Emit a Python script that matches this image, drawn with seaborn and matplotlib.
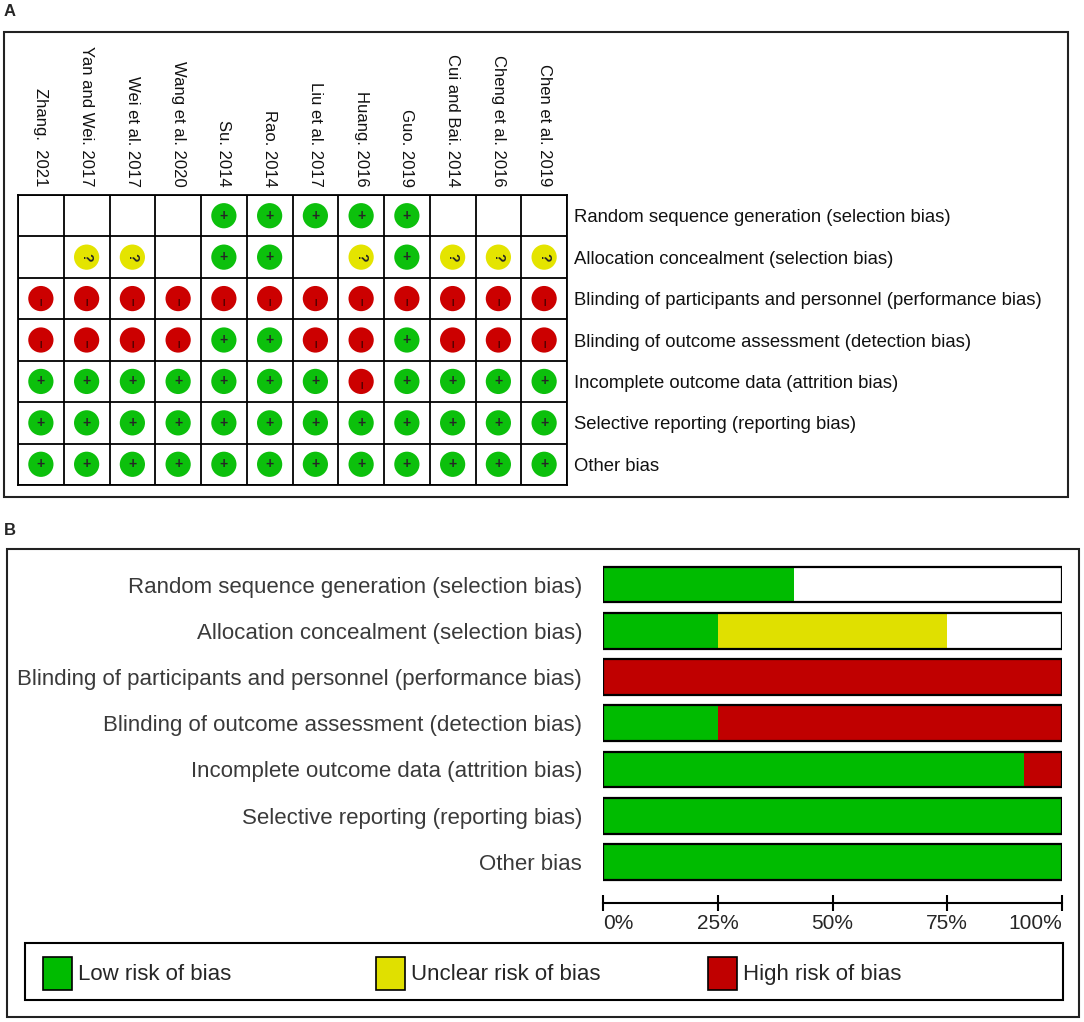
import numpy as np
import pandas as pd
import matplotlib
matplotlib.use("Agg")
import matplotlib.pyplot as plt
import seaborn as sns
from matplotlib.patches import Rectangle

# studies (columns of panel A) and domains (rows)
studies = ["Zhang.  2021", "Yan and Wei. 2017", "Wei et al. 2017", "Wang et al. 2020",
           "Su. 2014", "Rao. 2014", "Liu et al. 2017", "Huang. 2016", "Guo. 2019",
           "Cui and Bai. 2014", "Cheng et al. 2016", "Chen et al. 2019"]
domains = ["Random sequence generation (selection bias)",
           "Allocation concealment (selection bias)",
           "Blinding of participants and personnel (performance bias)",
           "Blinding of outcome assessment (detection bias)",
           "Incomplete outcome data (attrition bias)",
           "Selective reporting (reporting bias)",
           "Other bias"]

# judgements per domain, one per study: "+" low, "?" unclear, "-" high, "" not assessed
random_seq = ["", "", "", "", "+", "+", "+", "+", "+", "", "", ""]
allocation = ["", "?", "?", "", "+", "+", "", "?", "+", "?", "?", "?"]
blind_part = ["-", "-", "-", "-", "-", "-", "-", "-", "-", "-", "-", "-"]
blind_outc = ["-", "-", "-", "-", "+", "+", "-", "-", "+", "-", "-", "-"]
incomplete = ["+", "+", "+", "+", "+", "+", "+", "-", "+", "+", "+", "+"]
selective = ["+", "+", "+", "+", "+", "+", "+", "+", "+", "+", "+", "+"]
other = ["+", "+", "+", "+", "+", "+", "+", "+", "+", "+", "+", "+"]
judgements = [random_seq, allocation, blind_part, blind_outc, incomplete, selective, other]

legend_names = ["Low risk of bias", "Unclear risk of bias", "High risk of bias"]

GREEN = "#00bb00"
YELLOW = "#e0e000"
RED = "#c00000"
dot_colors = {"+": "#0cc00c", "?": "#e4e400", "-": "#cc0000"}

W, H = 1084, 1022


def box(l, t, r, b):
    # pixel box -> figure fraction [left, bottom, width, height]
    return [l / W, 1 - b / H, (r - l) / W, (b - t) / H]


def frame(fig, l, t, r, b, lw=1.5, ec="#222222"):
    x, y, w, h = box(l, t, r, b)
    fig.add_artist(Rectangle((x, y), w, h, transform=fig.transFigure,
                             fill=False, ec=ec, lw=lw))


sns.set_style("white")
plt.rcParams["font.family"] = ["Liberation Sans", "DejaVu Sans"]

fig = plt.figure(figsize=(W / 100, H / 100), dpi=100)

# ---------------- panel A: traffic light grid ----------------
rows = []
for d_i, marks in enumerate(judgements):
    for s_i, m in enumerate(marks):
        if m:
            rows.append({"study": s_i, "domain": d_i, "mark": m})
df_a = pd.DataFrame(rows)

ax1 = fig.add_axes(box(18, 195, 567, 485))
sns.scatterplot(data=df_a, x="study", y="domain", hue="mark", palette=dot_colors,
                s=330, edgecolor="none", legend=False, ax=ax1, zorder=3)
for _, r in df_a.iterrows():
    if r["mark"] == "+":
        ax1.text(r["study"], r["domain"], "+", ha="center", va="center",
                 fontsize=10, fontweight="bold", zorder=4)
    elif r["mark"] == "?":
        ax1.text(r["study"], r["domain"], "?", ha="center", va="center",
                 fontsize=10, fontweight="bold", rotation=-90, zorder=4)
    else:
        ax1.text(r["study"], r["domain"] + 0.1, "|", ha="center", va="center",
                 fontsize=6, fontweight="bold", color="#330000", zorder=4)

ax1.set_xlim(-0.5, len(studies) - 0.5)
ax1.set_ylim(len(domains) - 0.5, -0.5)
ax1.set_xticks(np.arange(-0.5, len(studies), 1), minor=True)
ax1.set_yticks(np.arange(-0.5, len(domains), 1), minor=True)
ax1.grid(which="minor", color="black", lw=1.3)
ax1.grid(which="major", visible=False)
ax1.xaxis.tick_top()
ax1.yaxis.tick_right()
ax1.set_xticks(range(len(studies)))
ax1.set_xticklabels(studies, rotation=-90, fontsize=12, color="#111111")
ax1.set_yticks(range(len(domains)))
ax1.set_yticklabels(domains, fontsize=13.3, color="#111111")
ax1.tick_params(which="both", length=0)
ax1.tick_params(axis="x", pad=6)
ax1.tick_params(axis="y", pad=5)
ax1.set_xlabel("")
ax1.set_ylabel("")
for sp in ax1.spines.values():
    sp.set_color("black")
    sp.set_linewidth(1.3)

# ---------------- panel B: summary bars ----------------
n = len(studies)
df_b = pd.DataFrame({
    "domain": domains,
    "low": [m.count("+") / n * 100 for m in judgements],
    "unclear": [m.count("?") / n * 100 for m in judgements],
    "high": [m.count("-") / n * 100 for m in judgements],
})
df_b["c_high"] = df_b["low"] + df_b["unclear"] + df_b["high"]
df_b["c_unclear"] = df_b["low"] + df_b["unclear"]
df_b["total"] = 100

ax2 = fig.add_axes(box(603, 561.4, 1062, 885.1))
bw = 0.77
sns.barplot(data=df_b, x="c_high", y="domain", color=RED, saturation=1,
            width=bw, orient="y", ax=ax2, linewidth=0)
sns.barplot(data=df_b, x="c_unclear", y="domain", color=YELLOW, saturation=1,
            width=bw, orient="y", ax=ax2, linewidth=0)
sns.barplot(data=df_b, x="low", y="domain", color=GREEN, saturation=1,
            width=bw, orient="y", ax=ax2, linewidth=0)
sns.barplot(data=df_b, x="total", y="domain", color="black", fill=False,
            width=bw, orient="y", ax=ax2, linewidth=1.6)

ax2.set_xlim(0, 100)
ax2.set_xlabel("")
ax2.set_ylabel("")
for s in ["top", "right", "left"]:
    ax2.spines[s].set_visible(False)
ax2.spines["bottom"].set_position(("outward", 13))
ax2.spines["bottom"].set_color("black")
ax2.spines["bottom"].set_linewidth(1.5)
ax2.set_xticks([0, 25, 50, 75, 100])
ax2.set_xticklabels(["0%", "25%", "50%", "75%", "100%"], fontsize=15)
xl = ax2.get_xticklabels()
xl[0].set_ha("left")
xl[-1].set_ha("right")
ax2.tick_params(axis="x", bottom=True, direction="inout", length=12, width=1.5,
                color="black", pad=2)
ax2.tick_params(axis="y", left=False, length=0, pad=15, labelsize=16, labelcolor="#3a3a3a")

# legend row
legend_colors = [GREEN, YELLOW, RED]
legend_x = [43, 376, 708]
for name, col, lx in zip(legend_names, legend_colors, legend_x):
    x, y, w, h = box(lx, 957, lx + 29, 990)
    fig.add_artist(Rectangle((x, y), w, h, transform=fig.transFigure,
                             fc=col, ec="black", lw=1.2))
    fig.text((lx + 35) / W, 1 - 974 / H, name, ha="left", va="center", fontsize=16)
frame(fig, 25, 943, 1063, 1000, lw=1.5, ec="black")

# panel frames and letters
frame(fig, 4, 32, 1068, 497)
frame(fig, 7, 549, 1079, 1017)
fig.text(4 / W, 1 - 12 / H, "A", fontsize=12, fontweight="bold", va="center")
fig.text(4 / W, 1 - 530 / H, "B", fontsize=12, fontweight="bold", va="center")

fig.savefig("out.png", dpi=100)
